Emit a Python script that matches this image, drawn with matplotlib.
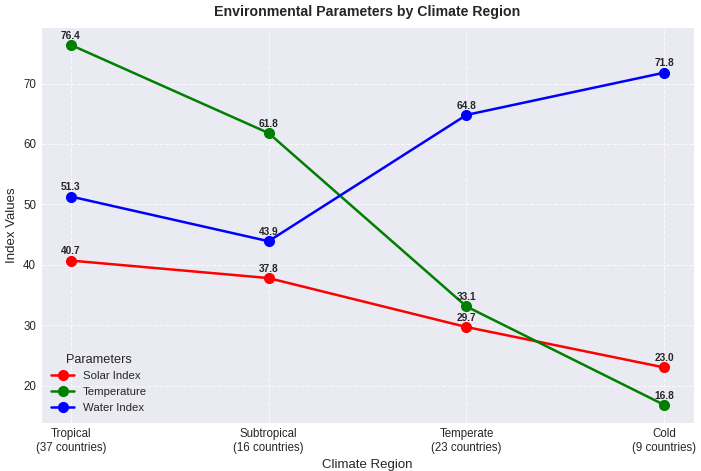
import matplotlib
matplotlib.use("Agg")
import matplotlib.pyplot as plt
import seaborn as sns

regions = ["Tropical\n(37 countries)", "Subtropical\n(16 countries)",
           "Temperate\n(23 countries)", "Cold\n(9 countries)"]
solar = [40.7, 37.8, 29.7, 23.0]
temperature = [76.4, 61.8, 33.1, 16.8]
water = [51.3, 43.9, 64.8, 71.8]

sns.set_style("darkgrid", {"grid.linestyle": "--"})
plt.rcParams['font.family'] = ['Liberation Sans', 'DejaVu Sans']

fig, ax = plt.subplots(figsize=(7.01, 4.71), dpi=100)
x = range(len(regions))

series = [("Solar Index", solar, "red"),
          ("Temperature", temperature, "green"),
          ("Water Index", water, "blue")]
for name, vals, col in series:
    ax.plot(x, vals, marker='o', color=col, linewidth=1.8, markersize=7, label=name)
    for xi, v in zip(x, vals):
        ax.annotate(f"{v:.1f}", (xi, v), textcoords="offset points", xytext=(0, 4.5),
                    ha='center', fontsize=7.3, fontweight='bold')

ax.set_xticks(list(x))
ax.set_xticklabels(regions, fontsize=8.3)
ax.tick_params(axis='both', labelsize=8.3, length=0, pad=3.5)
ax.set_xlabel("Climate Region", fontsize=9.5, labelpad=4)
ax.set_ylabel("Index Values", fontsize=9.5, labelpad=4)
ax.set_title("Environmental Parameters by Climate Region", fontsize=10.2, fontweight='bold', pad=8)
ax.grid(True, linestyle='--', color='white', alpha=0.8)

leg = ax.legend(title="Parameters", loc='lower left', frameon=False, fontsize=8.2, title_fontsize=9.2)

plt.subplots_adjust(left=0.0585, right=0.990, top=0.943, bottom=0.102)
plt.savefig("out.png", dpi=100)
